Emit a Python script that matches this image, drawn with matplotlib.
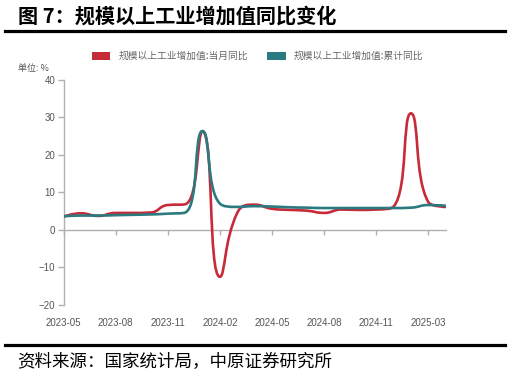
import numpy as np
import matplotlib
matplotlib.use('Agg')
import matplotlib.pyplot as plt
from matplotlib.path import Path
from matplotlib.patches import PathPatch, Patch
from matplotlib.lines import Line2D

plt.rcParams['font.family'] = ['Liberation Sans', 'Noto Sans CJK SC', 'DejaVu Sans']

months = ['2023-05', '2023-06', '2023-07', '2023-08', '2023-09', '2023-10', '2023-11',
          '2023-12', '2024-01', '2024-02', '2024-03', '2024-04', '2024-05', '2024-06',
          '2024-07', '2024-08', '2024-09', '2024-10', '2024-11', '2024-12', '2025-02',
          '2025-03', '2025-04']
monthly = [3.5, 4.4, 3.7, 4.5, 4.5, 4.6, 6.6, 6.8, 26.2, -12.5, 4.5, 6.7, 5.6, 5.3,
           5.1, 4.5, 5.4, 5.3, 5.4, 6.2, 31.0, 7.4, 6.1]
cumulative = [3.6, 3.8, 3.8, 3.9, 4.0, 4.1, 4.3, 4.6, 26.3, 7.0, 6.1, 6.3, 6.2, 6.0,
              5.9, 5.8, 5.8, 5.8, 5.8, 5.8, 5.9, 6.6, 6.4]
labels = ['规模以上工业增加值:当月同比', '规模以上工业增加值:累计同比']
colors = ['#C72A38', '#2B7A80']

W, H = 511, 378
fig = plt.figure(figsize=(W / 100, H / 100), dpi=100)
ax = fig.add_axes([63.5 / W, 1 - 305 / H, (445.7 - 63.5) / W, (305 - 79.5) / H])

x = np.arange(len(months))
ax.set_xlim(0, len(months) - 1)
ax.set_ylim(-20, 40)


def smooth_path(xs, ys, smooth=0.5):
    # echarts-style bezier smoothing, computed in pixel space
    pts = ax.transData.transform(np.column_stack([xs, ys]))
    n = len(pts)
    verts, codes = [pts[0]], [Path.MOVETO]
    cp0 = pts[0].copy()
    for i in range(1, n):
        p, prev = pts[i], pts[i - 1]
        if i < n - 1:
            nxt = pts[i + 1]
            v = nxt - prev
            lp = np.hypot(*(p - prev))
            ln = np.hypot(*(nxt - p))
            r = ln / (ln + lp)
            ncp0 = p + v * smooth * r
            ncp0 = np.minimum(ncp0, np.maximum(nxt, p))
            ncp0 = np.maximum(ncp0, np.minimum(nxt, p))
            cp1 = p - (ncp0 - p) * lp / ln
            cp1 = np.minimum(cp1, np.maximum(prev, p))
            cp1 = np.maximum(cp1, np.minimum(prev, p))
            ncp0 = p + (p - cp1) * ln / lp
        else:
            cp1 = p.copy()
            ncp0 = p.copy()
        verts += [cp0, cp1, p]
        codes += [Path.CURVE4] * 3
        cp0 = ncp0
    return Path(ax.transData.inverted().transform(np.array(verts)), codes)


for z, (series, c) in enumerate([(monthly, colors[0]), (cumulative, colors[1])]):
    ax.add_patch(PathPatch(smooth_path(x, series), fill=False, edgecolor=c, lw=1.9,
                           capstyle='round', joinstyle='round', zorder=3 + z))

for s in ['top', 'right', 'bottom']:
    ax.spines[s].set_visible(False)
ax.spines['left'].set_color('#b0b0b0')
ax.spines['left'].set_linewidth(1.0)
ax.set_yticks(range(-20, 41, 10))
ax.tick_params(axis='y', colors='#b0b0b0', labelcolor='#555555', labelsize=7,
               length=4, width=1.0, pad=2)

tick_idx = list(range(0, len(months), 3))
ax.set_xticks(tick_idx)
ax.set_xticklabels([months[i] for i in tick_idx])
ax.tick_params(axis='x', length=0, labelsize=7, labelcolor='#555555', pad=9)

# zero line with ticks
zero = ax.secondary_xaxis(1 / 3)
zero.set_xticks(tick_idx)
zero.set_xticklabels([])
zero.spines['bottom'].set_color('#b0b0b0')
zero.spines['bottom'].set_linewidth(1.0)
zero.tick_params(axis='x', colors='#b0b0b0', length=3.5, width=1.0, direction='out')

cjk = ['Noto Sans CJK SC', 'DejaVu Sans']
ax.text(-0.12, 1.05, '单位: %', transform=ax.transAxes, fontsize=6.5, color='#555555',
        family=cjk, ha='left', va='center')

handles = [Patch(facecolor=colors[0], edgecolor='none'),
           Patch(facecolor=colors[1], edgecolor='none')]
fig.legend(handles, labels, loc='center left', bbox_to_anchor=(92 / W, 1 - 56 / H),
           ncol=2, frameon=False, prop={'family': cjk, 'size': 7}, labelcolor='#666666',
           handlelength=1.9, handleheight=0.9, handletextpad=0.8, columnspacing=2.0,
           borderaxespad=0, borderpad=0)

fig.text(18 / W, 1 - 16 / H, '图 7：规模以上工业增加值同比变化', fontsize=14.5,
         fontweight='bold', family=cjk, ha='left', va='center', color='black')
fig.add_artist(Line2D([5 / W, 505 / W], [1 - 31 / H, 1 - 31 / H], color='black', lw=2.3))
fig.add_artist(Line2D([5 / W, 505 / W], [1 - 345 / H, 1 - 345 / H], color='black', lw=2.3))
fig.text(17 / W, 1 - 362 / H, '资料来源：国家统计局，中原证券研究所', fontsize=12.6,
         family=cjk, ha='left', va='center', color='black')

fig.savefig('out.png', dpi=100)
